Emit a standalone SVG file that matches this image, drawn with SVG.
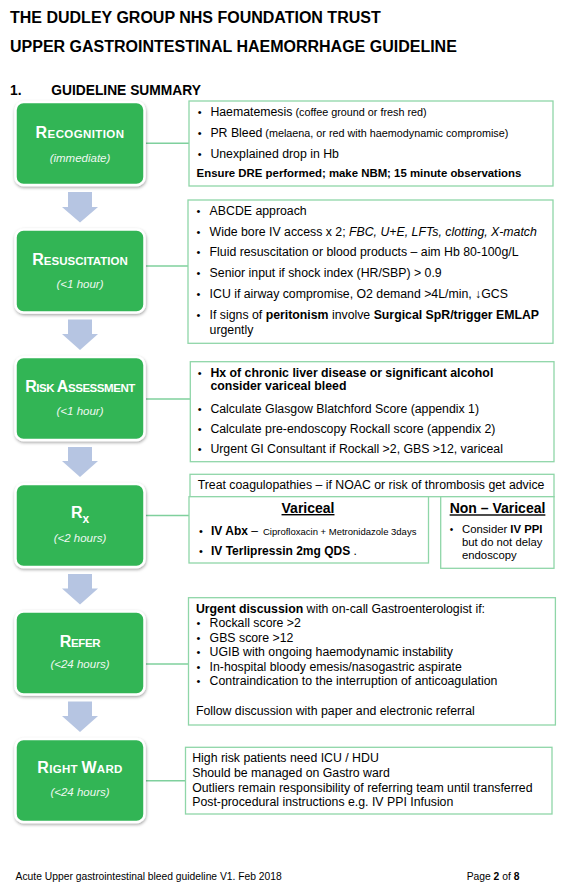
<svg xmlns="http://www.w3.org/2000/svg" width="580" height="894" viewBox="0 0 580 894">
<defs>
<style>
text{font-family:"Liberation Sans",Arial,sans-serif;fill:#000}
.h{font-weight:bold;font-size:16px}
.b{font-weight:bold}
.n{font-size:12.3px}
.s{font-size:10.8px}
.bul{font-size:11px}
.lbl{fill:#fff;font-weight:bold}
.big{font-size:16px}
.sc{font-size:11.5px}
.sub{fill:#eef8f1;font-style:italic;font-size:11.5px}
.g{fill:#30b554;stroke:#fff;stroke-width:2.5}
.box{fill:#fff;stroke:#8fd6a8;stroke-width:1.3}
.conn{stroke:#7fd09d;stroke-width:1.6;fill:none}
.arr{fill:#b6c5e2}
.ft{font-size:10.3px}
</style>
<filter id="sh" x="-10%" y="-10%" width="125%" height="130%">
<feDropShadow dx="0.5" dy="1.5" stdDeviation="1.8" flood-color="#000" flood-opacity="0.35"/>
</filter>
</defs>
<rect width="580" height="894" fill="#fff"/>

<g id="header">
<text class="h" x="10" y="22.7">THE DUDLEY GROUP NHS FOUNDATION TRUST</text>
<text class="h" x="10" y="52.3">UPPER GASTROINTESTINAL HAEMORRHAGE GUIDELINE</text>
<text class="b" x="10" y="95" font-size="13.8">1.</text>
<text class="b" x="51.2" y="95" font-size="13.8">GUIDELINE SUMMARY</text>
</g>

<g id="connectors">
<path class="arr" d="M68,192 H92 V207 H98 L80,222.5 L62,207 H68 Z"/>
<path class="arr" d="M68,319.5 H92 V334 H98 L80,350 L62,334 H68 Z"/>
<path class="arr" d="M68,447 H92 V461 H98 L80,477 L62,461 H68 Z"/>
<path class="arr" d="M68,574 H92 V588.5 H98 L80,604.5 L62,588.5 H68 Z"/>
<path class="arr" d="M68,701.5 H92 V716 H98 L80,732 L62,716 H68 Z"/>
<line class="conn" x1="146" y1="143.3" x2="189" y2="143.3"/>
<line class="conn" x1="146" y1="266" x2="188" y2="266"/>
<line class="conn" x1="146" y1="399" x2="190.3" y2="399"/>
<line class="conn" x1="146" y1="515.5" x2="189" y2="515.5"/>
<line class="conn" x1="146" y1="664" x2="188.5" y2="664"/>
<line class="conn" x1="146" y1="780.7" x2="185.5" y2="780.7"/>
</g>

<g id="recognition">
<rect class="g" x="15.5" y="102" width="129" height="83" rx="8" filter="url(#sh)"/>
<text class="lbl" x="80" y="138" text-anchor="middle" letter-spacing="0.4"><tspan class="big">R</tspan><tspan class="sc">ECOGNITION</tspan></text>
<text class="sub" x="80" y="162" text-anchor="middle">(immediate)</text>
</g>
<g id="recognition-detail">
<rect class="box" x="189" y="101" width="364" height="85"/>
<text class="bul" x="197.7" y="115.7">•</text>
<text x="210.4" y="115.7"><tspan class="n">Haematemesis</tspan><tspan class="s"> (coffee ground  or fresh red)</tspan></text>
<text class="bul" x="197.7" y="137.3">•</text>
<text x="210.4" y="137.3"><tspan class="n">PR Bleed</tspan><tspan class="s"> (melaena,  or red with haemodynamic  compromise)</tspan></text>
<text class="bul" x="197.7" y="158.3">•</text>
<text class="n" x="210.4" y="158.3">Unexplained drop in Hb</text>
<text class="b" x="196.6" y="177.3" font-size="11.4">Ensure DRE performed; make NBM; 15 minute observations</text>
</g>

<g id="resuscitation">
<rect class="g" x="15.5" y="229.5" width="129" height="83" rx="8" filter="url(#sh)"/>
<text class="lbl" x="80" y="265" text-anchor="middle"><tspan class="big">R</tspan><tspan class="sc">ESUSCITATION</tspan></text>
<text class="sub" x="80" y="288" text-anchor="middle">(&lt;1 hour)</text>
</g>
<g id="resuscitation-detail">
<rect class="box" x="188" y="200" width="365" height="143.3"/>
<text class="bul" x="196.6" y="215">•</text>
<text class="bul" x="196.6" y="236">•</text>
<text class="bul" x="196.6" y="256">•</text>
<text class="bul" x="196.6" y="276.7">•</text>
<text class="bul" x="196.6" y="298.3">•</text>
<text class="bul" x="196.6" y="319.3">•</text>
<text class="n" x="209.6" y="215">ABCDE approach</text>
<text class="n" x="209.6" y="236">Wide bore IV access x 2; <tspan font-style="italic">FBC, U+E, LFTs, clotting, X-match</tspan></text>
<text class="n" x="209.6" y="256">Fluid resuscitation or blood products – aim Hb 80-100g/L</text>
<text class="n" x="209.6" y="276.7">Senior input if shock index (HR/SBP) &gt; 0.9</text>
<text class="n" x="209.6" y="298.3">ICU if airway compromise, O2 demand &gt;4L/min, ↓GCS</text>
<text class="n" x="209.6" y="319.3">If signs of <tspan class="b">peritonism</tspan> involve <tspan class="b">Surgical SpR/trigger EMLAP</tspan></text>
<text class="n" x="209.6" y="334">urgently</text>
</g>

<g id="risk-assessment">
<rect class="g" x="15.5" y="357" width="129" height="83" rx="8" filter="url(#sh)"/>
<text class="lbl" x="80" y="392" text-anchor="middle" letter-spacing="-0.45"><tspan class="big">R</tspan><tspan class="sc">ISK </tspan><tspan class="big">A</tspan><tspan class="sc">SSESSMENT</tspan></text>
<text class="sub" x="80" y="415" text-anchor="middle">(&lt;1 hour)</text>
</g>
<g id="risk-detail">
<rect class="box" x="190.3" y="361.7" width="363.7" height="100"/>
<text class="bul" x="197.7" y="376.7">•</text>
<text class="n b" x="210.4" y="376.7">Hx of chronic liver disease or significant alcohol</text>
<text class="n b" x="210.4" y="390">consider variceal bleed</text>
<text class="bul" x="197.7" y="412.7">•</text>
<text class="n" x="210.4" y="412.7">Calculate Glasgow Blatchford Score (appendix 1)</text>
<text class="bul" x="197.7" y="432.7">•</text>
<text class="n" x="210.4" y="432.7">Calculate pre-endoscopy Rockall score (appendix 2)</text>
<text class="bul" x="197.7" y="453.3">•</text>
<text class="n" x="210.4" y="453.3">Urgent GI Consultant if Rockall &gt;2, GBS &gt;12, variceal</text>
</g>

<g id="rx">
<rect class="g" x="15.5" y="484" width="129" height="83" rx="8" filter="url(#sh)"/>
<text class="lbl" x="80" y="518.3" text-anchor="middle"><tspan font-size="16">R</tspan><tspan font-size="12" dy="5">x</tspan></text>
<text class="sub" x="80" y="541.7" text-anchor="middle">(&lt;2 hours)</text>
</g>
<g id="rx-coagulopathies">
<rect class="box" x="190" y="474.3" width="364" height="22.4"/>
<text class="n" x="197.7" y="488.5">Treat coagulopathies – if NOAC or risk of thrombosis get advice</text>
</g>
<g id="rx-variceal">
<rect class="box" x="189" y="496.7" width="239.5" height="66.3"/>
<text class="b" x="308" y="513" font-size="14" text-anchor="middle" text-decoration="underline">Variceal</text>
<text class="bul" x="199" y="535">•</text>
<text x="211" y="535"><tspan class="b" font-size="12">IV Abx</tspan><tspan font-size="12"> – </tspan><tspan x="263" font-size="9.5">Ciprofloxacin + Metronidazole 3days</tspan></text>
<text class="bul" x="199" y="555">•</text>
<text x="211" y="555"><tspan class="b" font-size="12">IV Terlipressin 2mg QDS</tspan><tspan font-size="12"> .</tspan></text>
</g>
<g id="rx-non-variceal">
<rect class="box" x="440.7" y="496.7" width="113.3" height="71.6"/>
<text class="b" x="497.5" y="513.3" font-size="14" text-anchor="middle" text-decoration="underline">Non – Variceal</text>
<text x="449.7" y="533" font-size="10">•</text>
<text x="462" y="533" font-size="11.3">Consider <tspan class="b">IV PPI</tspan></text>
<text x="462" y="546" font-size="11.3">but do not delay</text>
<text x="462" y="559.3" font-size="11.3">endoscopy</text>
</g>

<g id="refer">
<rect class="g" x="15.5" y="611.5" width="129" height="83" rx="8" filter="url(#sh)"/>
<text class="lbl" x="80" y="646.7" text-anchor="middle" letter-spacing="-0.3"><tspan class="big">R</tspan><tspan class="sc">EFER</tspan></text>
<text class="sub" x="80" y="668.3" text-anchor="middle">(&lt;24 hours)</text>
</g>
<g id="refer-detail">
<rect class="box" x="188.5" y="597.7" width="366.9" height="127.3"/>
<text class="n" x="195.9" y="612.5"><tspan class="b">Urgent discussion</tspan> with on-call Gastroenterologist if:</text>
<text class="bul" x="196.6" y="627">•</text>
<text class="n" x="209.6" y="627">Rockall score &gt;2</text>
<text class="bul" x="196.6" y="641.5">•</text>
<text class="n" x="209.6" y="641.5">GBS score &gt;12</text>
<text class="bul" x="196.6" y="656">•</text>
<text class="n" x="209.6" y="656">UGIB with ongoing haemodynamic instability</text>
<text class="bul" x="196.6" y="670.5">•</text>
<text class="n" x="209.6" y="670.5">In-hospital bloody emesis/nasogastric aspirate</text>
<text class="bul" x="196.6" y="685">•</text>
<text class="n" x="209.6" y="685">Contraindication to the interruption of anticoagulation</text>
<text class="n" x="195.9" y="715">Follow discussion with paper and electronic referral</text>
</g>

<g id="right-ward">
<rect class="g" x="15.5" y="739" width="129" height="83" rx="8" filter="url(#sh)"/>
<text class="lbl" x="80" y="772.7" text-anchor="middle" letter-spacing="0.3"><tspan class="big">R</tspan><tspan class="sc">IGHT </tspan><tspan class="big">W</tspan><tspan class="sc">ARD</tspan></text>
<text class="sub" x="80" y="796" text-anchor="middle">(&lt;24 hours)</text>
</g>
<g id="right-ward-detail">
<rect class="box" x="185.5" y="747.3" width="366.5" height="66.7"/>
<text class="n" x="192.2" y="762.3">High risk patients need ICU / HDU</text>
<text class="n" x="192.2" y="777">Should be managed on Gastro ward</text>
<text class="n" x="192.2" y="791.7">Outliers remain responsibility of referring team until transferred</text>
<text class="n" x="192.2" y="806">Post-procedural instructions e.g. IV PPI Infusion</text>
</g>

<g id="footer">
<text class="ft" x="15.6" y="880">Acute Upper gastrointestinal bleed guideline V1. Feb 2018</text>
<text class="ft" x="466.7" y="880">Page <tspan class="b">2</tspan> of <tspan class="b">8</tspan></text>
</g>
</svg>
